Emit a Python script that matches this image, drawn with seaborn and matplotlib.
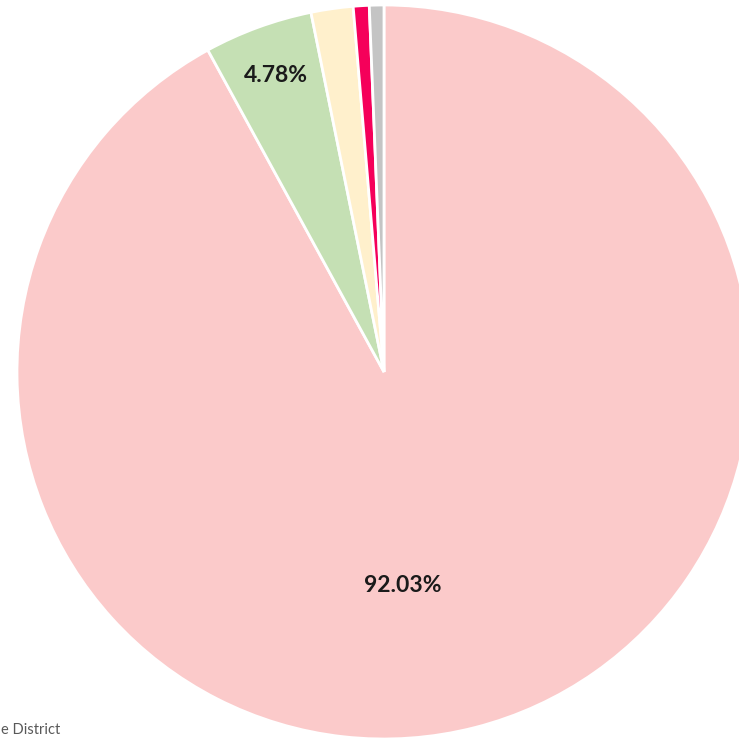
import matplotlib
matplotlib.use("Agg")
import matplotlib.pyplot as plt
import seaborn as sns
import numpy as np

categories = ["Category A", "Category B", "Category C", "Category D", "Category E"]
shares = [92.03, 4.78, 1.85, 0.70, 0.64]
colors = ["#FBCACA", "#C5E0B4", "#FFF0CC", "#F5005A", "#C4C4C4"]
shown_labels = {0: "92.03%", 1: "4.78%"}

sns.set_theme(style="white")
plt.rcParams['font.family'] = ['Lato', 'DejaVu Sans']

W, H = 739, 738
fig = plt.figure(figsize=(W / 100, H / 100), dpi=100)
ax = fig.add_axes([0, 0, 1, 1])
cx, cy, R = 384, 372, 367

wedges, _ = ax.pie(shares, colors=sns.color_palette(colors), startangle=90, counterclock=False,
                   radius=1.0, wedgeprops=dict(edgecolor="white", linewidth=2))

for i, w in enumerate(wedges):
    if i not in shown_labels:
        continue
    mid = np.deg2rad((w.theta1 + w.theta2) / 2)
    if i == 0:
        pos = (0.052, -0.583)
    else:
        pos = (0.86 * np.cos(mid), 0.86 * np.sin(mid))
    ax.text(pos[0], pos[1], shown_labels[i], ha="center", va="center",
            fontsize=16.5, fontweight="bold", color="#1a1a1a")

ax.set_xlim((0 - cx) / R, (W - cx) / R)
ax.set_ylim(-(H - cy) / R, cy / R)
ax.set_aspect("equal")
ax.axis("off")

fig.text(0.002, 0.001, "e District", ha="left", va="bottom", fontsize=10.5, color="#595959")

fig.savefig("out.png", dpi=100)
